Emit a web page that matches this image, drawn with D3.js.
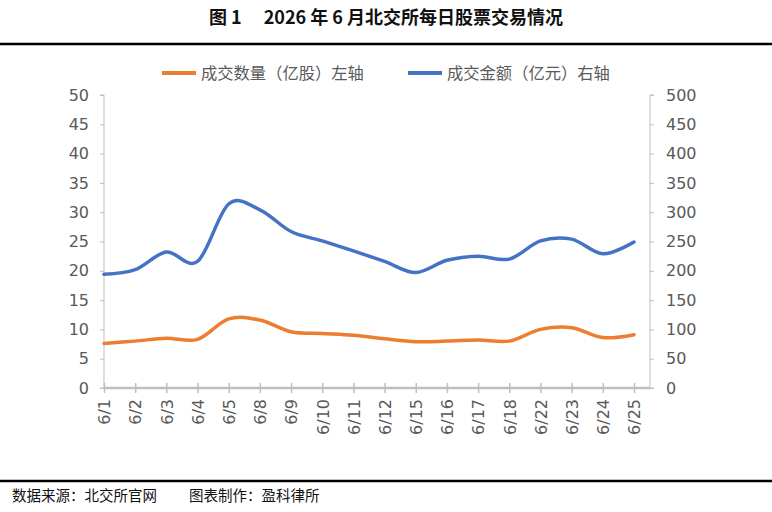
<!DOCTYPE html>
<html>
<head>
<meta charset="utf-8">
<script src="https://cdn.jsdelivr.net/npm/d3@7"></script>
<style>
  html, body { margin: 0; padding: 0; background: #fff; }
  svg { display: block; }
</style>
</head>
<body>
<div id="chart"></div>
<script>
// data
const dates = ["6/1", "6/2", "6/3", "6/4", "6/5", "6/8", "6/9", "6/10", "6/11",
  "6/12", "6/15", "6/16", "6/17", "6/18", "6/22", "6/23", "6/24", "6/25"];
const volume = [7.6, 8.0, 8.5, 8.3, 11.8, 11.6, 9.6, 9.3, 9.0,
  8.4, 7.9, 8.0, 8.2, 8.0, 10.0, 10.3, 8.6, 9.1];        // 亿股, left axis
const amount = [194, 202, 232, 216, 314, 304, 267, 251, 234,
  216, 197, 218, 225, 220, 251, 254, 229, 249];           // 亿元, right axis
const leftTicks = [0, 5, 10, 15, 20, 25, 30, 35, 40, 45, 50];
const rightTicks = [0, 50, 100, 150, 200, 250, 300, 350, 400, 450, 500];
const seriesNames = ["成交数量（亿股）左轴", "成交金额（亿元）右轴"];

const W = 772, H = 512;
const cjk = "'Noto Sans CJK SC', 'Noto Sans', sans-serif";
const num = "'DejaVu Sans', sans-serif";
const grey = "#595959", axisGrey = "#bfbfbf";
const orange = "#ED7D31", blue = "#4472C4";

const svg = d3.select("#chart").append("svg")
  .attr("width", W).attr("height", H);

// title + rules
svg.append("text")
  .attr("x", W / 2).attr("y", 24)
  .attr("text-anchor", "middle")
  .style("font-family", cjk).style("font-size", "18px").style("font-weight", "bold")
  .attr("fill", "#111")
  .text("图 1\u3000 2026 年 6 月北交所每日股票交易情况");

svg.append("line").attr("x1", 0).attr("x2", W).attr("y1", 44).attr("y2", 44)
  .attr("stroke", "#000").attr("stroke-width", 2.5);
svg.append("line").attr("x1", 0).attr("x2", W).attr("y1", 481).attr("y2", 481)
  .attr("stroke", "#000").attr("stroke-width", 2.5);

svg.append("text")
  .attr("x", 12).attr("y", 501)
  .style("font-family", cjk).style("font-size", "14.5px")
  .attr("fill", "#111")
  .text("数据来源：北交所官网");
svg.append("text")
  .attr("x", 189).attr("y", 501)
  .style("font-family", cjk).style("font-size", "14.5px")
  .attr("fill", "#111")
  .text("图表制作：盈科律所");

// legend
const legend = svg.append("g");
[[162, orange, seriesNames[0]], [408, blue, seriesNames[1]]].forEach(([lx, c, t]) => {
  legend.append("line").attr("x1", lx).attr("x2", lx + 34).attr("y1", 73).attr("y2", 73)
    .attr("stroke", c).attr("stroke-width", 4);
  legend.append("text").attr("x", lx + 39).attr("y", 79)
    .style("font-family", cjk).style("font-size", "16.3px")
    .attr("fill", grey).text(t);
});

// scales
const plotL = 104, plotR = 650, plotT = 95, plotB = 388;
const x = d3.scalePoint().domain(dates).range([plotL, 634]);
const yL = d3.scaleLinear().domain([0, 50]).range([plotB, plotT]);
const yR = d3.scaleLinear().domain([0, 500]).range([plotB, plotT]);

// left axis
const gL = svg.append("g").attr("transform", `translate(${plotL},0)`)
  .call(d3.axisLeft(yL).tickValues(leftTicks).tickSize(4).tickPadding(11));
// right axis
const gR = svg.append("g").attr("transform", `translate(${plotR},0)`)
  .call(d3.axisRight(yR).tickValues(rightTicks).tickSize(4).tickPadding(12));
[gL, gR].forEach(g => {
  g.select(".domain").attr("stroke", axisGrey).attr("d",
    g === gL ? `M-4,${plotT}H0V${plotB}H-4` : `M4,${plotT}H0V${plotB}H4`);
  g.selectAll(".tick line").attr("stroke", axisGrey);
  g.selectAll(".tick text").attr("fill", grey)
    .style("font-family", num).style("font-size", "16px");
});

// bottom axis
const gX = svg.append("g").attr("transform", `translate(0,${plotB})`)
  .call(d3.axisBottom(x).tickSize(0).tickPadding(0));
gX.select(".domain").remove();
gX.append("line").attr("x1", plotL).attr("x2", plotR).attr("y1", 0).attr("y2", 0)
  .attr("stroke", axisGrey).attr("stroke-width", 2.5);
gX.selectAll(".tick").append("line")
  .attr("y1", -5).attr("y2", 5).attr("stroke", axisGrey).attr("stroke-width", 1.5);
gX.selectAll(".tick text")
  .attr("transform", "rotate(-90)")
  .attr("text-anchor", "end")
  .attr("x", -11).attr("y", 0).attr("dy", "0.36em")
  .attr("fill", grey)
  .style("font-family", num).style("font-size", "16px");

// lines (Excel-style smoothing)
const lineL = d3.line().x((d, i) => x(dates[i])).y(d => yL(d)).curve(d3.curveCatmullRom.alpha(0));
const lineR = d3.line().x((d, i) => x(dates[i])).y(d => yR(d)).curve(d3.curveCatmullRom.alpha(0));

svg.append("path").datum(volume).attr("d", lineL)
  .attr("fill", "none").attr("stroke", orange).attr("stroke-width", 3.5)
  .attr("stroke-linecap", "round").attr("stroke-linejoin", "round");
svg.append("path").datum(amount).attr("d", lineR)
  .attr("fill", "none").attr("stroke", blue).attr("stroke-width", 3.5)
  .attr("stroke-linecap", "round").attr("stroke-linejoin", "round");
</script>
</body>
</html>
